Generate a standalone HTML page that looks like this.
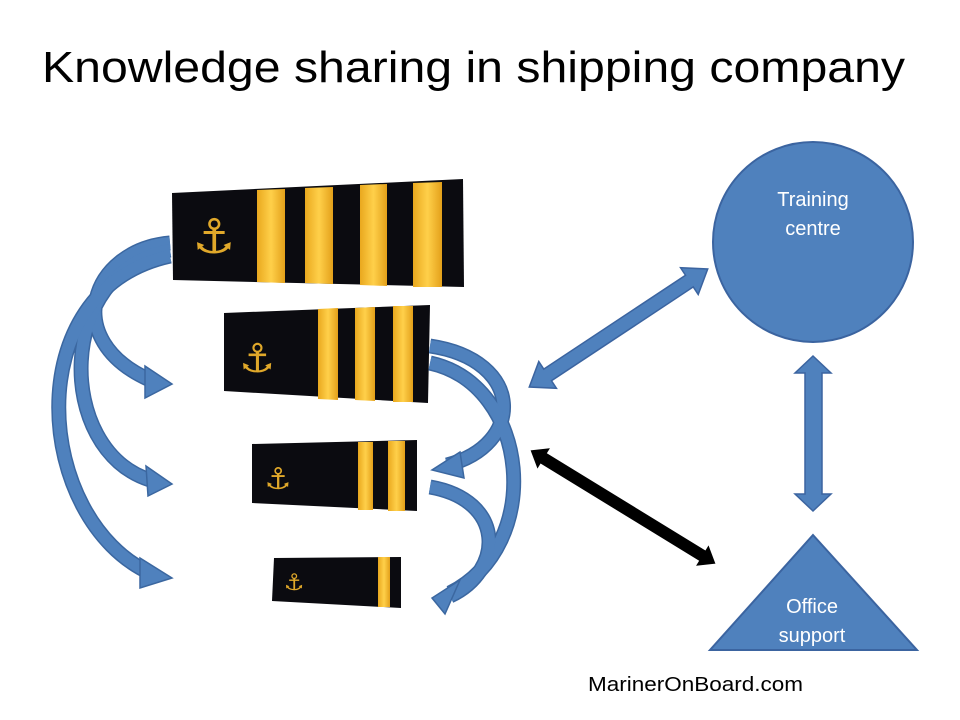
<!DOCTYPE html>
<html><head><meta charset="utf-8"><style>
html,body{margin:0;padding:0;background:#fff;width:960px;height:720px;overflow:hidden}
svg{display:block}
</style></head><body>
<svg width="960" height="720" viewBox="0 0 960 720" xmlns="http://www.w3.org/2000/svg">
<defs>
<linearGradient id="g" x1="0" x2="1" y1="0" y2="0">
<stop offset="0" stop-color="#e9a81e"/><stop offset="0.5" stop-color="#ffd04a"/><stop offset="1" stop-color="#e3a01a"/>
</linearGradient>
</defs>
<text x="42" y="82" font-family="Liberation Sans, sans-serif" font-size="44" textLength="863" lengthAdjust="spacingAndGlyphs" fill="#000">Knowledge sharing in shipping company</text>

<!-- Epaulettes -->
<g>
<polygon points="172,193 463,179 464,287 173,280" fill="#0b0b10"/>
<polygon points="257,190 285,189 285,283 257,282" fill="url(#g)"/>
<polygon points="305,188 333,187 333,284 305,283" fill="url(#g)"/>
<polygon points="360,185 387,184 387,286 360,285" fill="url(#g)"/>
<polygon points="413,183 442,182 442,287 413,287" fill="url(#g)"/>
<text x="214" y="253" font-family="DejaVu Sans, sans-serif" font-weight="bold" font-size="48" fill="#e0a82a" text-anchor="middle">⚓</text>

<polygon points="224,313 430,305 428,403 224,391" fill="#0b0b10"/>
<polygon points="318,309 338,308 338,400 318,399" fill="url(#g)"/>
<polygon points="355,308 375,307 375,401 355,400" fill="url(#g)"/>
<polygon points="393,306 413,306 413,402 393,402" fill="url(#g)"/>
<text x="257" y="372" font-family="DejaVu Sans, sans-serif" font-weight="bold" font-size="40" fill="#e0a82a" text-anchor="middle">⚓</text>

<polygon points="252,444 417,440 417,511 252,503" fill="#0b0b10"/>
<polygon points="358,442 373,442 373,510 358,510" fill="url(#g)"/>
<polygon points="388,441 405,441 405,511 388,511" fill="url(#g)"/>
<text x="278" y="489" font-family="DejaVu Sans, sans-serif" font-weight="bold" font-size="30" fill="#e0a82a" text-anchor="middle">⚓</text>

<polygon points="274,558 401,557 401,608 272,601" fill="#0b0b10"/>
<polygon points="378,557 390,557 390,607 378,607" fill="url(#g)"/>
<text x="294" y="590" font-family="DejaVu Sans, sans-serif" font-weight="bold" font-size="23" fill="#e0a82a" text-anchor="middle">⚓</text>
</g>

<!-- Curved blue arrows -->
<g fill="none" stroke="#3b67a0" stroke-width="15" stroke-linecap="butt">
<path d="M170,243 C90,250 60,340 150,380"/>
<path d="M170,250 C55,270 55,450 150,480"/>
<path d="M170,256 C15,290 35,520 150,573"/>
<path d="M430,346 C525,360 525,445 447,465"/>
<path d="M430,363 C530,385 545,545 450,593"/>
<path d="M430,487 C505,500 505,570 450,596"/>
</g>
<g fill="none" stroke="#4f81bd" stroke-width="12" stroke-linecap="butt">
<path d="M170,243 C90,250 60,340 150,380"/>
<path d="M170,250 C55,270 55,450 150,480"/>
<path d="M170,256 C15,290 35,520 150,573"/>
<path d="M430,346 C525,360 525,445 447,465"/>
<path d="M430,363 C530,385 545,545 450,593"/>
<path d="M430,487 C505,500 505,570 450,596"/>
</g>
<g fill="#4f81bd" stroke="#3b67a0" stroke-width="1.5">
<polygon points="145,366 172,384 145,398"/>
<polygon points="146,466 172,484 148,496"/>
<polygon points="140,558 172,578 140,588"/>
<polygon points="460,452 432,470 464,478"/>
<polygon points="460,580 432,598 445,614"/>
</g>

<!-- Circle -->
<circle cx="813" cy="242" r="100" fill="#4f81bd" stroke="#3b64a0" stroke-width="2"/>
<text font-family="Liberation Sans, sans-serif" font-size="20" fill="#fff" text-anchor="middle"><tspan x="813" y="206">Training</tspan><tspan x="813" y="235">centre</tspan></text>

<!-- Triangle -->
<polygon points="813,535 917,650 710,650" fill="#4f81bd" stroke="#3b64a0" stroke-width="2"/>
<text font-family="Liberation Sans, sans-serif" font-size="20" fill="#fff" text-anchor="middle"><tspan x="812" y="613">Office</tspan><tspan x="812" y="642">support</tspan></text>

<!-- Vertical double arrow -->
<polygon points="813,356 831,373 822,373 822,494 831,494 813,511 795,494 805,494 805,373 795,373" fill="#4f81bd" stroke="#3b64a0" stroke-width="1.5"/>

<!-- Diagonal blue double arrow -->
<g transform="translate(618.5,328) rotate(-33.5)">
<polygon points="-107,0 -85,-16 -85,-7 85,-7 85,-16 107,0 85,16 85,7 -85,7 -85,16" fill="#4f81bd" stroke="#3b64a0" stroke-width="1.5"/>
</g>

<!-- Black double arrow -->
<g transform="translate(623,507) rotate(31.5)">
<polygon points="-110,0 -92,-14 -92,-7 92,-7 92,-14 110,0 92,14 92,7 -92,7 -92,14" fill="#000" stroke="#fff" stroke-width="2"/>
</g>

<text x="588" y="691" font-family="Liberation Sans, sans-serif" font-size="20" textLength="215" lengthAdjust="spacingAndGlyphs" fill="#000">MarinerOnBoard.com</text>
</svg>
</body></html>
